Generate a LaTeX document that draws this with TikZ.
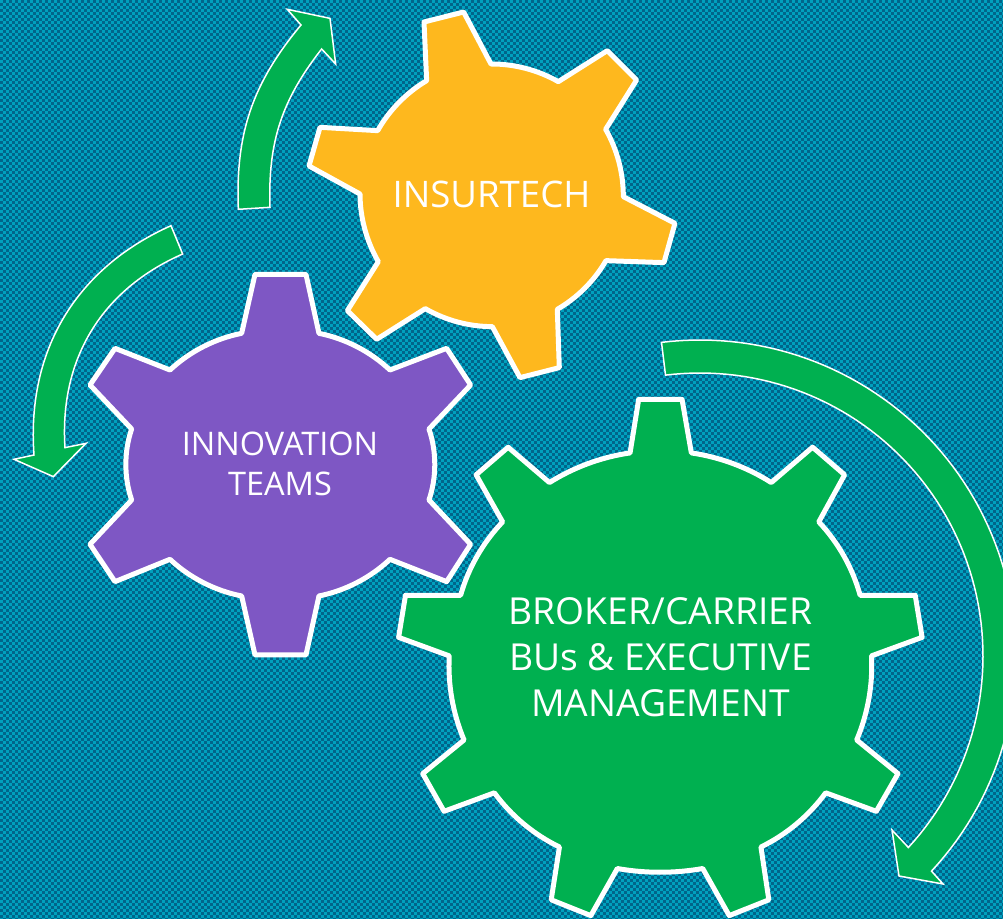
\documentclass[tikz,border=0pt]{standalone}
\usepackage{fontspec}
\setmainfont{Open Sans}
\definecolor{bgdark}{HTML}{00658A}
\definecolor{bglight}{HTML}{00A0BE}
\definecolor{ggreen}{HTML}{00B050}
\definecolor{ggold}{HTML}{FEB81E}
\definecolor{gpurple}{HTML}{7E57C4}
\tikzset{
 gear/.style={draw=white,line width=5pt,line join=round},
 flow/.style={fill=ggreen,draw=white,line width=1.5pt,line join=miter},
 arcl/.style={bend left=#1,looseness=.86},
 label/.style={text=white,align=center,inner sep=0pt},
 sqa/.style={bglight,line width=3pt,dash pattern=on 3pt off 3pt},
 sqb/.style={bglight,line width=3pt,dash pattern=on 3pt off 3pt,dash phase=3pt},
}
\begin{document}
\begin{tikzpicture}[x=1pt,y=-1pt]
\useasboundingbox (0,0) rectangle (1003,918);
\fill[bgdark] (-5,-5) rectangle (1010,925);
\foreach \i in {0,6,...,924}{
  \draw[sqa] (0,\i+1.5) -- (1010,\i+1.5);
  \draw[sqb] (0,\i+4.5) -- (1010,\i+4.5);
}
% flow arrows
\begin{scope}[shift={(220,0)},x=.3333pt,y=-.3333pt]
\draw[flow] (55,628) to[bend left=21] (243,75) -- (202,28) -- (330,55) -- (347,192) -- (305,147) to[bend right=20] (150,622) -- cycle;
\end{scope}
\begin{scope}[shift={(0,210)},x=.3333pt,y=-.3333pt]
\draw[flow] (513,47) to[bend right=35] (102,735) -- (42,748) -- (160,800) -- (258,700) -- (195,713) to[bend left=35] (548,132) -- cycle;
\end{scope}
\draw[flow] plot[domain=-97:42.9,samples=80] ({700+316*cos(\x)},{656+316*sin(\x)})
 -- (943,884) -- (899,876) -- (892,830) -- (907,846)
 -- plot[domain=42.6:-97,samples=80] ({700+283*cos(\x)},{656+283*sin(\x)}) -- cycle;
% insurtech gear
\begin{scope}[shift={(300,0)},x=.3333pt,y=-.3333pt]
\draw[gear,fill=ggold] (380,242) -- (372,66) -- (491,36) -- (573,192) to[arcl=15] (775,245)
 -- (922,152) -- (1010,240) -- (917,388) to[arcl=15] (970,590)
 -- (1125,670) -- (1092,788) -- (918,782) to[arcl=15] (772,928)
 -- (778,1103) -- (660,1133) -- (577,980) to[arcl=15] (376,926)
 -- (230,1018) -- (142,932) -- (235,785) to[arcl=15] (180,582)
 -- (27,498) -- (60,382) -- (233,392) to[arcl=15] (380,242) -- cycle;
\end{scope}
% innovation gear
\begin{scope}[shift={(80,265)},x=.3333pt,y=-.3333pt]
\draw[gear,fill=gpurple] (485,205) -- (525,28) -- (678,28) -- (717,205) to[arcl=16] (930,315)
 -- (1100,250) -- (1172,360) -- (1047,492) to[arcl=19] (1047,705)
 -- (1172,838) -- (1100,950) -- (930,883) to[arcl=16] (717,993)
 -- (678,1170) -- (525,1170) -- (485,993) to[arcl=16] (270,883)
 -- (105,950) -- (30,838) -- (155,705) to[arcl=19] (155,492)
 -- (30,360) -- (105,250) -- (270,315) to[arcl=16] (485,205) -- cycle;
\end{scope}
% broker gear
\begin{scope}[shift={(390,390)},x=.3444pt,y=-.3365pt]
\draw[gear,fill=ggreen] (697,187) -- (722,28) -- (848,28) -- (875,187) to[arcl=12] (1107,275)
 -- (1227,170) -- (1320,252) -- (1245,392) to[arcl=14] (1365,610)
 -- (1525,610) -- (1545,735) -- (1398,790) to[arcl=13] (1355,1040)
 -- (1475,1140) -- (1412,1252) -- (1265,1197) to[arcl=14] (1077,1358)
 -- (1100,1515) -- (985,1562) -- (908,1422) to[arcl=10] (660,1422)
 -- (583,1562) -- (468,1515) -- (492,1358) to[arcl=14] (303,1197)
 -- (157,1252) -- (95,1140) -- (215,1040) to[arcl=13] (172,790)
 -- (25,735) -- (45,610) -- (205,610) to[arcl=14] (327,392)
 -- (250,252) -- (343,170) -- (463,275) to[arcl=12] (697,187) -- cycle;
\end{scope}
\node[label,font=\fontsize{36.6}{44}\selectfont] (insur) at (491.5,194) {INSURTECH};
\node[label,font=\fontsize{32.5}{40}\selectfont] (innov) at (280,464) {INNOVATION\\TEAMS};
\node[label,font=\fontsize{37.2}{46}\selectfont] (broker) at (660.5,657) {BROKER/CARRIER\\BUs \& EXECUTIVE\\MANAGEMENT};
\end{tikzpicture}
\end{document}
